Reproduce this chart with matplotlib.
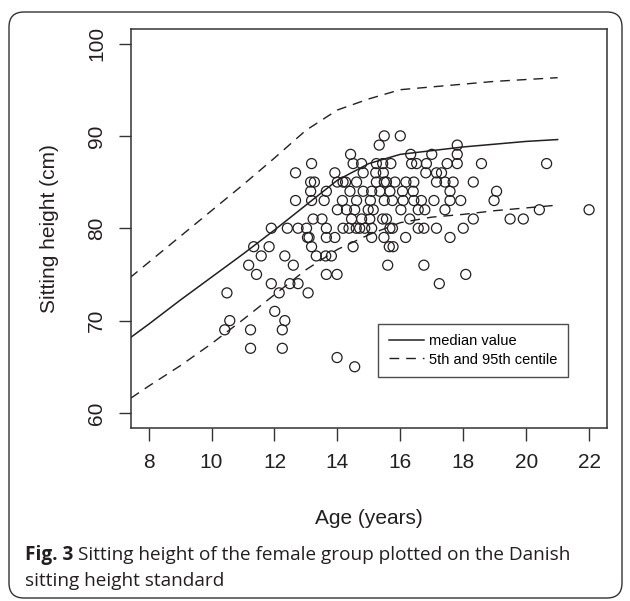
import matplotlib
matplotlib.use("Agg")
import matplotlib.pyplot as plt
from matplotlib.patches import FancyBboxPatch
import numpy as np

plt.rcParams["font.family"] = ["Liberation Sans", "DejaVu Sans"]

# Danish sitting height standard (female)
std_age = [7, 8, 9, 10, 11, 12, 13, 14, 15, 16, 17, 18, 19, 20, 21]
median = [67.1, 69.6, 72.2, 74.7, 77.2, 79.8, 82.5, 85.2, 87.0, 88.0, 88.4, 88.8, 89.1, 89.4, 89.6]
p95 = [73.5, 76.3, 79.1, 81.9, 84.7, 87.6, 90.6, 92.8, 94.0, 95.0, 95.3, 95.6, 95.9, 96.1, 96.3]
p5 = [60.6, 62.9, 65.1, 67.5, 70.1, 72.8, 75.5, 77.7, 79.3, 80.6, 81.2, 81.5, 81.9, 82.2, 82.5]

# observed girls: age (years) and sitting height (cm)
age = [14.42, 13.18, 12.67, 13.92, 14.5, 13.15, 13.27, 14.0, 14.18, 14.26, 14.61, 13.15, 13.65,
       14.4, 12.67, 13.18, 13.58, 14.16, 14.61, 14.0, 14.29, 14.55, 14.45, 13.23, 13.51, 11.9,
       12.41, 12.75, 13.02, 13.65, 14.18, 14.37, 14.6, 13.05, 13.1, 13.65, 13.92, 11.34, 11.83,
       13.18, 14.5, 11.58, 12.33, 13.33, 13.63, 13.81, 11.18, 12.6, 11.43, 13.65, 13.99,
       11.9, 12.49, 12.75, 10.49, 12.15, 13.07, 12.01, 10.58, 12.33, 10.42, 11.24, 12.25, 11.24,
       12.25, 13.99, 14.55,
       15.6, 16.75, 17.24, 18.08,
       15.49, 16.0, 15.33, 17.81, 16.33, 17.0, 17.81,
       14.77, 15.24, 15.44, 15.7, 16.36, 16.52, 16.83, 17.49, 17.81, 18.58,
       14.82, 15.22, 15.46, 16.81, 17.15, 17.31,
       15.24, 15.49, 15.56, 15.83, 16.18, 16.43, 17.15, 17.42, 17.68, 18.32,
       14.82, 15.09, 15.35, 15.67, 16.07, 16.41, 17.58, 19.06,
       15.05, 15.49, 15.75, 16.09, 16.43, 16.67, 17.07, 17.58, 17.92, 18.98,
       14.98, 15.14, 16.02, 16.57, 16.78, 17.42,
       14.77, 15.03, 15.44, 15.56, 16.3, 18.32,
       14.71, 14.87, 15.09, 15.67, 15.75, 16.57, 16.75, 17.15, 18.0,
       15.09, 15.48, 16.17, 17.58,
       15.65, 15.77,
       20.65, 20.42, 19.49, 19.91, 22.0]
height = [88, 87, 86, 86, 87, 85, 85, 85, 85, 85, 85, 84, 84,
          84, 83, 83, 83, 83, 83, 82, 82, 82, 81, 81, 81, 80,
          80, 80, 80, 80, 80, 80, 80, 79, 79, 79, 79, 78, 78,
          78, 78, 77, 77, 77, 77, 77, 76, 76, 75, 75, 75,
          74, 74, 74, 73, 73, 73, 71, 70, 70, 69, 69, 69, 67,
          67, 66, 65,
          76, 76, 74, 75,
          90, 90, 89, 89, 88, 88, 88,
          87, 87, 87, 87, 87, 87, 87, 87, 87, 87,
          86, 86, 86, 86, 86, 86,
          85, 85, 85, 85, 85, 85, 85, 85, 85, 85,
          84, 84, 84, 84, 84, 84, 84, 84,
          83, 83, 83, 83, 83, 83, 83, 83, 83, 83,
          82, 82, 82, 82, 82, 82,
          81, 81, 81, 81, 81, 81,
          80, 80, 80, 80, 80, 80, 80, 80, 80,
          79, 79, 79, 79,
          78, 78,
          87, 82, 81, 81, 82]

ink = "#231f20"
fig = plt.figure(figsize=(6.3, 6.01), dpi=100)
fig.patches.append(FancyBboxPatch((0.09, 0.03), 6.13, 5.86, boxstyle="round,pad=0,rounding_size=0.15",
                                  transform=fig.dpi_scale_trans, fill=False, ec="#333333", lw=1.0))

ax = fig.add_axes([0.2079, 0.2883, 0.7551, 0.6639])
ax.plot(std_age, median, color=ink, lw=1.1, label="median value")
ax.plot(std_age, p95, color=ink, lw=1.0, dashes=(7, 5), label="5th and 95th centile")
ax.plot(std_age, p5, color=ink, lw=1.0, dashes=(7, 5))
ax.scatter(age, height, s=52, facecolors="none", edgecolors=ink, linewidths=0.9, zorder=3)

ax.set_xlim(7.44, 22.56); ax.set_ylim(58.4, 101.6)
ax.set_xticks(range(8, 23, 2)); ax.set_yticks(range(60, 101, 10))
ax.set_yticklabels([str(v) for v in range(60, 101, 10)], rotation=90, va="center")
ax.tick_params(length=9, width=1.0, color="#333333", labelsize=15, labelcolor=ink, pad=9)
for s in ax.spines.values():
    s.set_linewidth(1.1); s.set_color("#333333")
ax.set_xlabel("Age (years)", fontsize=15, color=ink, labelpad=27)
ax.set_ylabel("Sitting height (cm)", fontsize=15, color=ink, labelpad=20)

leg = ax.legend(loc="upper left", bbox_to_anchor=(0.52, 0.26), fontsize=10.5, fancybox=False,
                edgecolor=ink, handlelength=2.4, handletextpad=0.4, borderpad=0.7, labelspacing=0.3,
                borderaxespad=0)
leg.get_frame().set_linewidth(1.0)

# caption: bold "Fig. 3" followed by regular text
cap = dict(fontsize=13.7, color=ink, family=["Open Sans", "DejaVu Sans"])
t = fig.text(25 / 630, 1 - 555 / 601, "Fig. 3", fontweight="bold", va="center", **cap)
fig.canvas.draw()
bb = t.get_window_extent().transformed(fig.transFigure.inverted())
fig.text(bb.x1 + 0.008, 1 - 555 / 601, "Sitting height of the female group plotted on the Danish", va="center", **cap)
fig.text(25 / 630, 1 - 581 / 601, "sitting height standard", va="center", **cap)

fig.savefig("out.png", dpi=100)
